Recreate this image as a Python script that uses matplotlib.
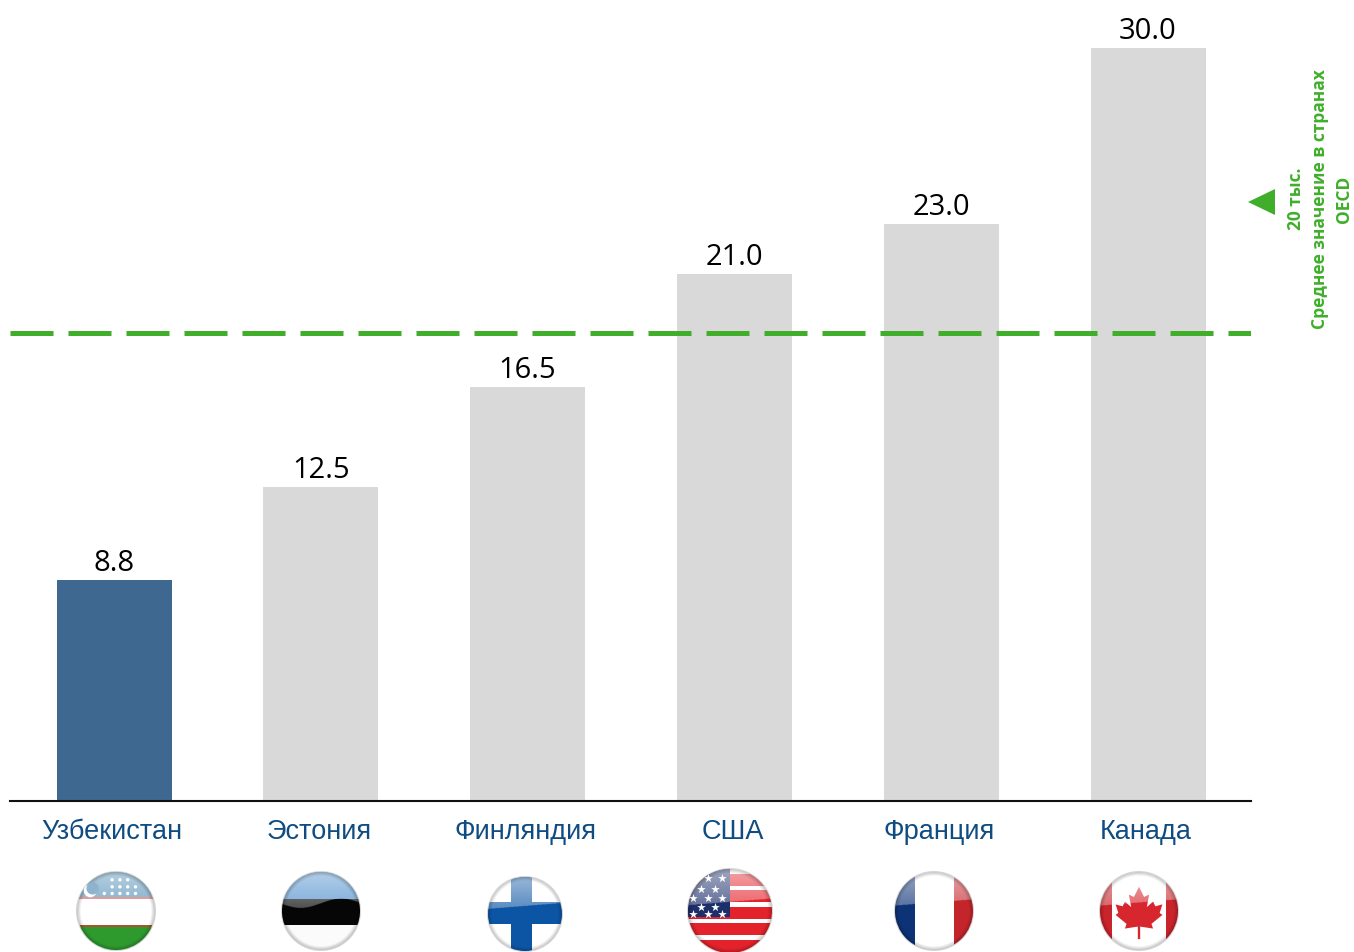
import numpy as np
import matplotlib
matplotlib.use("Agg")
import matplotlib.pyplot as plt
from matplotlib.patches import Circle, Rectangle, Polygon, Ellipse
from matplotlib.transforms import ScaledTranslation

# data
countries = ["Узбекистан", "Эстония", "Финляндия", "США", "Франция", "Канада"]
values = [8.8, 12.5, 16.5, 21.0, 23.0, 30.0]
oecd_line = 18.65
oecd_lines = ["20 тыс.", "Среднее значение в странах", "OECD"]

W, H = 1354, 952
BLUE = "#3F6890"
GREY = "#D9D9D9"
GREEN = "#40AE2B"
LABEL = "#0F4C81"


def sphere_shade(ov, cx, cy, r, clip, wave=False):
    # gloss on top part, darker rim, one RGBA layer over the flag
    n = 200
    xx, yy = np.meshgrid(np.linspace(-1, 1, n), np.linspace(-1, 1, n))
    rr = np.sqrt(xx ** 2 + yy ** 2)
    edge = -0.2 - 0.12 * np.sin(xx * 3.0) if wave else -0.22 - 0.08 * xx
    rgba = np.ones((n, n, 4))
    rgba[..., 3] = (yy < edge) * np.clip(0.28 - yy * 0.3, 0, 1)
    extent = (cx - r, cx + r, cy + r, cy - r)
    im = ov.imshow(rgba, extent=extent, aspect="auto", zorder=5)
    im.set_clip_path(clip)
    rim = np.zeros((n, n, 4))
    rim[..., 3] = np.clip((rr - 0.9) * 2.2, 0, 0.3)
    im2 = ov.imshow(rim, extent=extent, aspect="auto", zorder=6)
    im2.set_clip_path(clip)


def flag_rects(ov, cx, cy, r, rects, clip):
    for x0, y0, x1, y1, color in rects:
        p = Rectangle((cx + x0 * r, cy + y0 * r), (x1 - x0) * r, (y1 - y0) * r,
                      facecolor=color, edgecolor="none", zorder=3)
        ov.add_patch(p)
        p.set_clip_path(clip)


def draw_flag(ov, name, cx, cy, r):
    clip = Circle((cx, cy), r, transform=ov.transData)
    ov.add_patch(Circle((cx, cy), r + 1, facecolor="#D5D5D5", edgecolor="none", zorder=2))
    if name == "uz":
        flag_rects(ov, cx, cy, r, [
            (-1, -1, 1, -0.36, "#4F8DB5"),
            (-1, -0.36, 1, -0.31, "#D0605A"),
            (-1, -0.31, 1, 0.36, "#FFFFFF"),
            (-1, 0.36, 1, 0.42, "#A8552F"),
            (-1, 0.42, 1, 1, "#2E9A2E"),
        ], clip)
        for row, xs in [(-0.8, (-0.1, 0.1, 0.3)), (-0.62, (-0.1, 0.1, 0.3, 0.5)), (-0.45, (-0.3, -0.1, 0.1, 0.3, 0.5))]:
            for x in xs:
                ov.add_patch(Circle((cx + x * r, cy + row * r), 1.0, color="white", zorder=7))
        ov.add_patch(Circle((cx - 0.66 * r, cy - 0.52 * r), 0.15 * r, color="white", zorder=7))
        ov.add_patch(Circle((cx - 0.6 * r, cy - 0.58 * r), 0.14 * r, color="#8DB4CC", zorder=7))
    elif name == "ee":
        flag_rects(ov, cx, cy, r, [
            (-1, -1, 1, -0.3, "#4A8CCB"),
            (-1, -0.3, 1, 0.36, "#060606"),
            (-1, 0.36, 1, 1, "#FBFBFB"),
        ], clip)
    elif name == "fi":
        flag_rects(ov, cx, cy, r, [
            (-1, -1, 1, 1, "#FFFFFF"),
            (-0.38, -1, 0.2, 1, "#0C55A5"),
            (-1, -0.32, 1, 0.28, "#0C55A5"),
        ], clip)
    elif name == "us":
        stripes = [(-1, -1, 1, 1, "#FFFFFF")]
        for yc in (-0.74, -0.36, 0.05, 0.43, 0.83):
            stripes.append((-1, yc - 0.15, 1, yc + 0.15, "#E3222B"))
        stripes.append((-1, -1, 0, 0.14, "#1C2F6B"))
        flag_rects(ov, cx, cy, r, stripes, clip)
        sx, sy = [], []
        for j, y in enumerate((-0.78, -0.52, -0.3, -0.1, 0.07)):
            for x in np.arange(-0.87 + (j % 2) * 0.17, -0.05, 0.34):
                sx.append(cx + x * r)
                sy.append(cy + y * r)
        ov.scatter(sx, sy, marker="*", s=42, color="white", linewidths=0, zorder=7)
    elif name == "fr":
        flag_rects(ov, cx, cy, r, [
            (-1, -1, -0.48, 1, "#0D3276"),
            (-0.48, -1, 0.52, 1, "#FFFFFF"),
            (0.52, -1, 1, 1, "#C4252B"),
        ], clip)
    elif name == "ca":
        flag_rects(ov, cx, cy, r, [
            (-1, -1, 1, 1, "#FFFFFF"),
            (-1, -1, -0.68, 1, "#C9242B"),
            (0.68, -1, 1, 1, "#C9242B"),
        ], clip)
        leaf = [(0, -0.62), (0.13, -0.36), (0.26, -0.42), (0.2, -0.1), (0.36, -0.24), (0.42, -0.12),
                (0.6, -0.17), (0.53, 0.05), (0.6, 0.1), (0.32, 0.33), (0.36, 0.45), (0.03, 0.4),
                (0.03, 0.72), (-0.03, 0.72), (-0.03, 0.4), (-0.36, 0.45), (-0.32, 0.33), (-0.6, 0.1),
                (-0.53, 0.05), (-0.6, -0.17), (-0.42, -0.12), (-0.36, -0.24), (-0.2, -0.1),
                (-0.26, -0.42), (-0.13, -0.36)]
        ov.add_patch(Polygon([(cx + a * r, cy + b * r) for a, b in leaf],
                             facecolor="#D8262E", edgecolor="none", zorder=4))
    sphere_shade(ov, cx, cy, r, clip, wave=(name == "ee"))


def main():
    fig = plt.figure(figsize=(W / 100, H / 100), dpi=100, facecolor="white")

    # main axes: left 10px, right 1251px, baseline at y=801, top at y=0
    ax = fig.add_axes([10 / W, (H - 801) / H, 1241 / W, 801 / H])
    x = np.arange(len(countries))
    colors = [BLUE] + [GREY] * (len(countries) - 1)
    bars = ax.bar(x, values, width=0.556, color=colors, linewidth=0, zorder=1)
    ax.set_xlim(-0.503, 5.498)
    ax.set_ylim(0, 31.91)

    ax.bar_label(bars, fmt="%.1f", padding=1.5, fontsize=21, color="black",
                 family=["Open Sans", "DejaVu Sans"])
    ax.axhline(oecd_line, color=GREEN, linewidth=3.6, linestyle=(0, (43 / 5, 15 / 5)),
               dash_capstyle="butt", zorder=3)

    ax.set_xticks(x)
    ax.set_xticklabels(countries, fontsize=19.5, color=LABEL, family=["Liberation Sans", "DejaVu Sans"])
    ax.tick_params(axis="x", length=0, pad=13)
    shift = ScaledTranslation(-2 / 100, 0, fig.dpi_scale_trans)
    for lab in ax.get_xticklabels():
        lab.set_transform(lab.get_transform() + shift)
    ax.set_yticks([])
    for side in ["top", "left", "right"]:
        ax.spines[side].set_visible(False)
    ax.spines["bottom"].set_linewidth(1.5)
    ax.spines["bottom"].set_color("#111111")
    ax.patch.set_alpha(0)

    # overlay in pixel coords for flags and the side note
    ov = fig.add_axes([0, 0, 1, 1])
    ov.patch.set_alpha(0)
    ov.axis("off")

    draw_flag(ov, "uz", 116, 911, 39)
    draw_flag(ov, "ee", 321, 911, 39)
    draw_flag(ov, "fi", 525, 914, 37)
    draw_flag(ov, "us", 730, 911, 42)
    draw_flag(ov, "fr", 934, 911, 39)
    draw_flag(ov, "ca", 1139, 911, 39)

    ov.set_xlim(0, W)
    ov.set_ylim(H, 0)

    ov.add_patch(Polygon([(1248, 202), (1275, 189), (1275, 215)], facecolor=GREEN, edgecolor="none"))
    ov.text(1320, 199, "\n".join(oecd_lines), rotation=90, ha="center", va="center",
            multialignment="center", color=GREEN, fontsize=12.5, fontweight="bold",
            family=["Open Sans", "DejaVu Sans"], linespacing=1.4)

    fig.savefig("out.png", dpi=100)


if __name__ == "__main__":
    main()
